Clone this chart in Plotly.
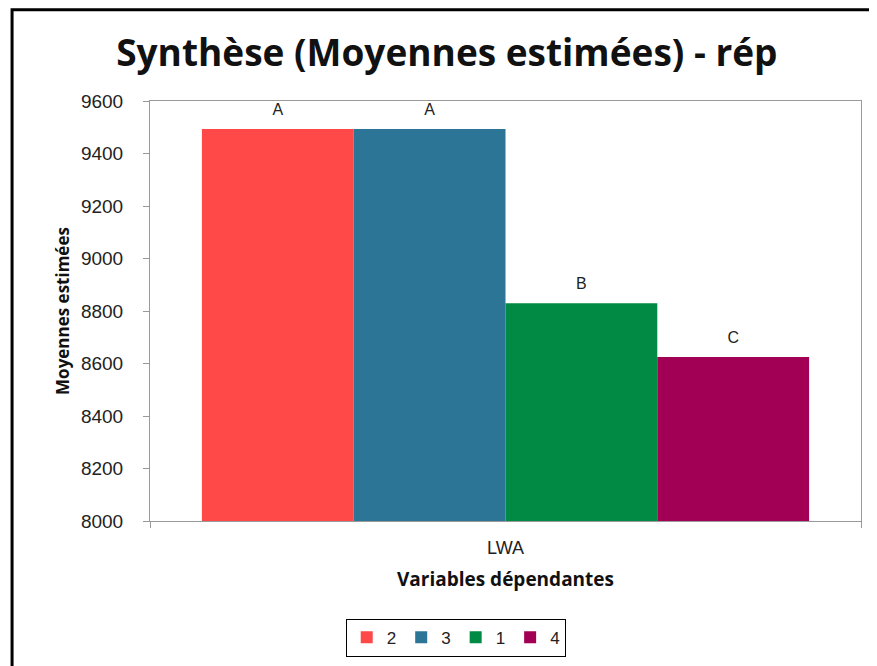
import plotly.graph_objects as go

# data
variables = ['LWA']
groups = ['2', '3', '1', '4']
means = [9493, 9493, 8830, 8625]
letters = ['A', 'A', 'B', 'C']
colors = ['#FF4848', '#2C7596', '#008A44', '#A10054']

fig = go.Figure()
for g, m, c in zip(groups, means, colors):
    fig.add_trace(go.Bar(x=variables, y=[m], name=g, offsetgroup=g,
                         marker=dict(color=c, line=dict(width=0))))

# letters above the bars, lifted a bit with an invisible marker
for g, m, lt in zip(groups, means, letters):
    fig.add_trace(go.Scatter(x=variables, y=[m], mode='markers+text', text=[lt],
                             offsetgroup=g, textposition='top center', cliponaxis=False,
                             marker=dict(size=14, opacity=0), showlegend=False, hoverinfo='skip',
                             textfont=dict(family='Liberation Sans, Arial', size=16, color='#222')))

# page body adds an 8px offset, so the figure is drawn 8px smaller
fig.update_layout(
    width=869, height=658,
    margin=dict(l=142, r=16, t=93, b=145),
    paper_bgcolor='white', plot_bgcolor='white',
    barmode='group', bargap=0.146, bargroupgap=0,
    scattermode='group', scattergap=0.146,
    title=dict(text='<b>Synthèse (Moyennes estimées) - rép</b>',
               x=0.505, xanchor='center', y=0.932, yanchor='middle',
               font=dict(family='Open Sans', size=37, color='#111')),
    font=dict(family='Liberation Sans, Arial', color='#222'),
    showlegend=True,
    legend=dict(orientation='h', xref='paper', x=0.43, xanchor='center',
                yref='container', y=0.072, yanchor='top',
                bordercolor='black', borderwidth=1, bgcolor='white',
                font=dict(family='Liberation Sans, Arial', size=17, color='#222'),
                itemwidth=30, tracegroupgap=0),
    shapes=[dict(type='rect', xref='paper', yref='paper',
                 x0=-0.194, x1=1.2, y0=-0.6, y1=1.217,
                 line=dict(color='black', width=3), layer='below')],
)

fig.update_yaxes(range=[8000, 9600], dtick=200, showgrid=False,
                 ticks='outside', ticklen=6, tickcolor='#9a9a9a', ticklabelstandoff=16,
                 showline=True, linecolor='#9a9a9a', mirror=True, zeroline=False,
                 tickfont=dict(size=19, color='#222'),
                 title=dict(text='<b>Moyennes estimées</b>', standoff=6,
                            font=dict(family='Open Sans', size=17, color='#111')))
fig.update_xaxes(showgrid=False, ticks='outside', ticklen=6, tickcolor='#9a9a9a',
                 tickson='boundaries', ticklabelstandoff=10,
                 showline=True, linecolor='#9a9a9a', mirror=True,
                 tickfont=dict(size=18, color='#222'),
                 title=dict(text='<b>Variables dépendantes</b>', standoff=16,
                            font=dict(family='Open Sans', size=19, color='#111')))

fig.write_html('out.html')
